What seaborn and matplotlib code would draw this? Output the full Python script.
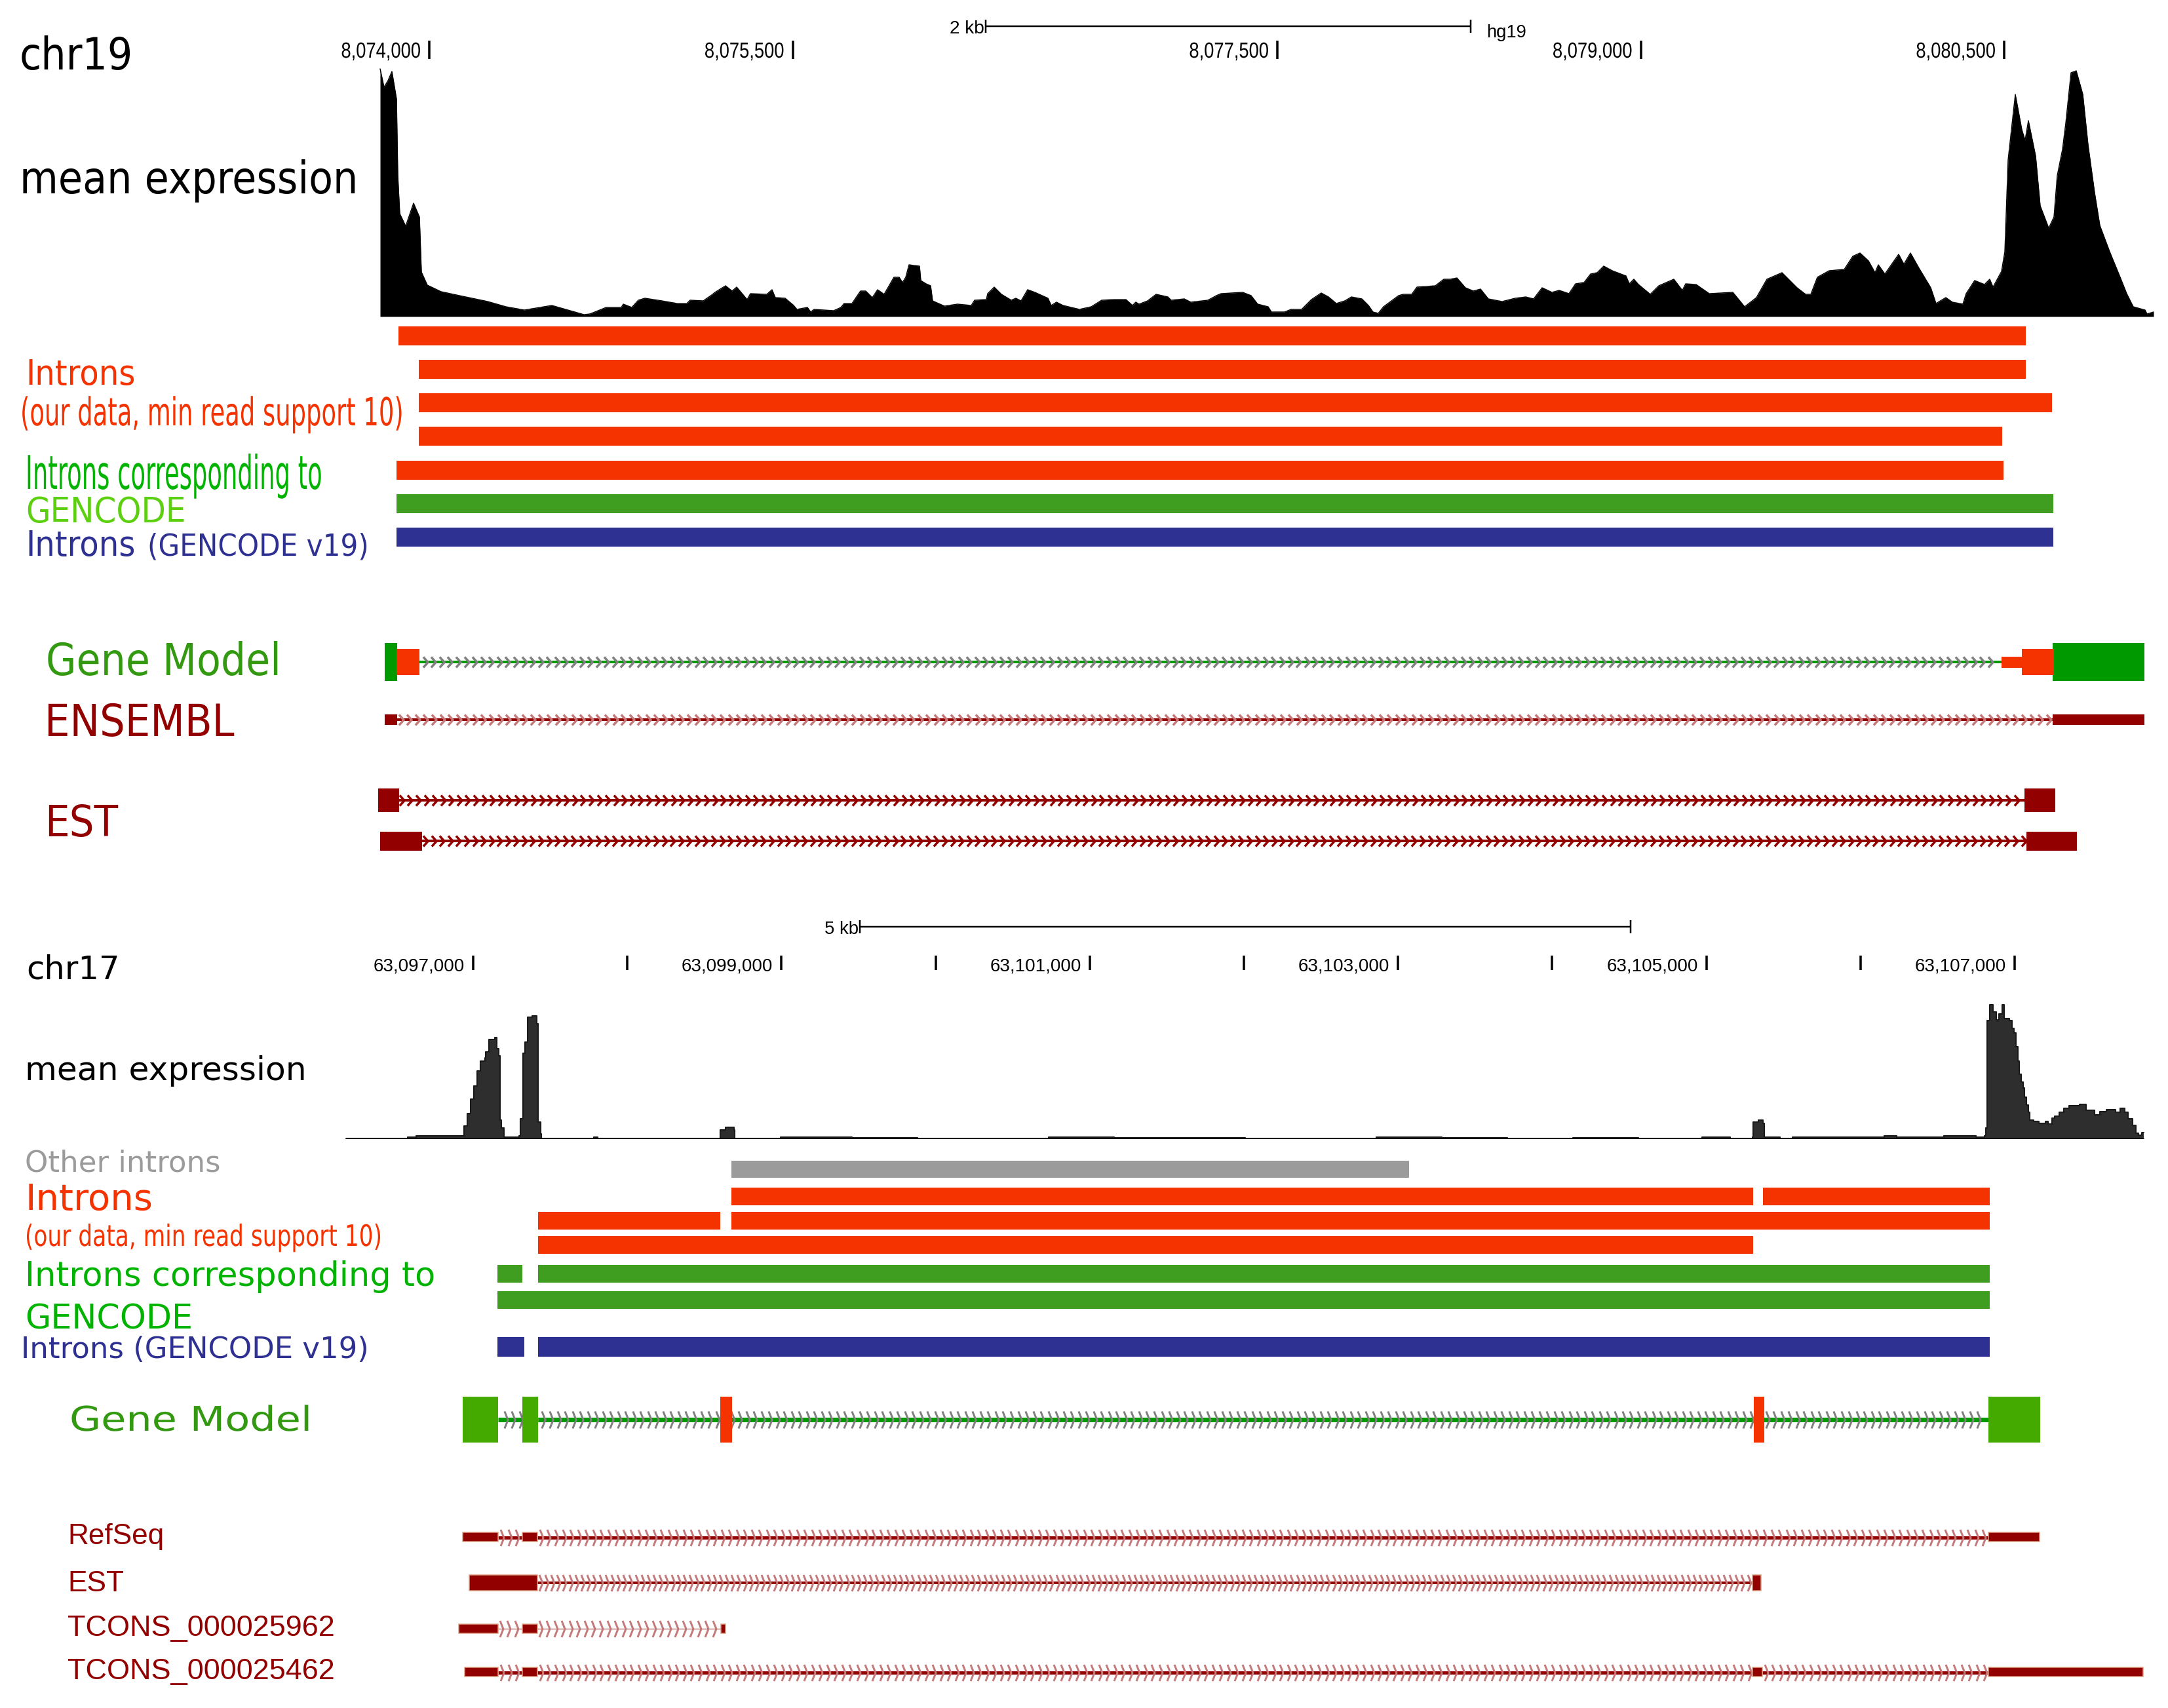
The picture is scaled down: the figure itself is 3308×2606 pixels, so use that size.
import numpy as np
import matplotlib
matplotlib.use("Agg")
import matplotlib.pyplot as plt
from matplotlib.path import Path
from matplotlib.patheffects import AbstractPathEffect
from matplotlib.transforms import Affine2D
import seaborn as sns

# ---------- DATA: panel 1 (chr19), positions in bp ----------
CHR19_START_BP = 8074000
CHR19_BP_PER_COL = 1 / 0.3697
chr19_ticks = [8074000, 8075500, 8077500, 8079000, 8080500]
chr19_tick_labels = ["8,074,000", "8,075,500", "8,077,500", "8,079,000", "8,080,500"]
chr19_scale = (8076297, 8078297)

# coverage read by browser column (one column ~ 2.7 bp) and height
chr19_cov_col = [580,586,592,598,605,607,610,619,631,640,643,652,673,701,744,772,800,842,891,900,915,925,948,951,964,974,984,
 1010,1033,1048,1053,1073,1086,1091,1107,1117,1124,1140,1145,1170,1178,1183,1198,1211,1216,1232,1237,1242,1272,1283,1288,1300,
 1313,1321,1331,1339,1349,1364,1372,1377,1382,1387,1403,1405,1413,1420,1423,1441,1461,1482,1487,1505,1507,1517,1528,1543,1550,
 1558,1568,1579,1599,1604,1612,1622,1647,1665,1681,1700,1718,1728,1733,1738,1751,1764,1782,1787,1807,1817,1843,1856,1863,1896,
 1909,1919,1935,1940,1960,1970,1986,2001,2016,2027,2039,2052,2062,2078,2088,2095,2103,2111,2134,2141,2154,2162,2190,2203,2213,
 2223,2236,2248,2259,2271,2292,2312,2328,2340,2353,2368,2379,2394,2404,2417,2427,2437,2447,2460,2481,2486,2493,2500,2518,2531,
 2554,2567,2572,2588,2608,2644,2662,2680,2696,2719,2742,2755,2763,2773,2791,2814,2827,2838,2851,2861,2866,2876,2897,2905,2915,
 2928,2946,2954,2969,2979,2995,3000,3013,3028,3036,3041,3054,3059,3064,3075,3085,3090,3095,3106,3113,3126,3134,3139,3147,3152,
 3160,3168,3178,3186,3196,3204,3219,3235,3245,3255,3273,3276,3286]
chr19_cov_h = [378,350,360,374,332,215,157,138,173,152,68,48,38,32,23,15,10,17,3,4,10,14,14,19,14,25,28,
 24,20,20,25,24,33,37,47,39,45,26,35,34,41,29,28,17,11,14,7,11,9,14,20,20,
 39,39,29,41,34,60,60,52,60,79,77,55,50,47,24,16,19,17,25,26,35,45,34,25,28,
 24,41,37,28,17,22,17,11,15,25,26,26,17,22,19,24,34,30,25,27,22,25,32,35,37,
 32,19,15,7,7,11,11,26,36,30,20,24,30,27,17,7,5,15,32,34,34,45,47,57,57,
 59,44,39,42,27,23,28,30,27,44,37,40,35,50,52,65,67,77,70,62,50,57,49,34,47,
 57,40,50,49,35,37,15,29,57,67,44,34,34,60,70,72,92,97,85,67,79,65,95,80,97,
 74,44,20,29,22,19,35,55,49,57,45,69,99,239,339,285,269,299,245,169,135,152,215,255,295,
 372,375,339,262,189,139,99,60,35,15,10,4,7]

chr19_red_rows = [[(8073873, 8080589)], [(8073957, 8080589)], [(8073957, 8080697)],
                  [(8073957, 8080492)], [(8073865, 8080497)]]
chr19_green_rows = [[(8073865, 8080703)]]
chr19_blue_rows = [[(8073865, 8080703)]]

chr19_gene_intron = [(8073959, 8080489)]
chr19_gene_green = [(8073816, 8073867), (8080700, 8081079)]
chr19_gene_red_tall = [(8073865, 8073959), (8080573, 8080705)]
chr19_gene_red_thin = [(8080489, 8080573)]
chr19_ensembl_exons = [(8073816, 8073867), (8080700, 8081079)]
chr19_ensembl_intron = [(8073867, 8080700)]
chr19_est1_exons = [(8073789, 8073876), (8080584, 8080711)]
chr19_est1_intron = [(8073876, 8080584)]
chr19_est2_exons = [(8073797, 8073970), (8080592, 8080800)]
chr19_est2_intron = [(8073970, 8080592)]

# ---------- DATA: panel 2 (chr17), positions in bp ----------
CHR17_START_BP = 63097000
CHR17_BP_PER_COL = 1 / 0.2352
chr17_ticks = [63097000 + 1000 * i for i in range(11)]
chr17_tick_labels = ["63,097,000", "", "63,099,000", "", "63,101,000", "", "63,103,000", "", "63,105,000", "", "63,107,000"]
chr17_scale = (63099510, 63104510)

chr17_cov_col = [528,622,635,704,708,713,718,723,728,733,740,741,746,755,758,761,763,765,769,792,794,798,801,805,812,819,821,825,
 826,906,912,1099,1107,1115,1120,1121,1191,1235,1300,1400,1500,1600,1700,1800,1900,2000,2100,2200,2300,2400,2500,2597,2640,2674,
 2675,2683,2690,2692,2714,2716,2735,2843,2856,2875,2894,2966,2974,3008,3015,3028,3030,3032,3036,3041,3046,3050,3055,3058,3066,
 3070,3073,3076,3079,3081,3084,3087,3089,3092,3095,3097,3103,3111,3121,3125,3131,3135,3142,3149,3157,3173,3183,3196,3204,3214,
 3224,3228,3235,3242,3247,3254,3259,3263,3268,3271]
chr17_cov_h = [1,3,5,5,20,39,61,81,104,119,124,133,152,155,138,127,29,17,3,5,31,131,148,186,188,176,26,8,
 1,3,1,14,18,18,14,1,3,3,2,1,1,3,2,2,1,1,3,2,1,2,1,3,1,3,
 26,29,24,3,3,1,3,3,3,5,3,5,5,5,3,5,17,181,205,194,182,191,205,184,181,
 169,162,141,119,99,87,78,64,52,41,29,27,24,27,23,32,35,41,47,51,53,44,37,42,45,
 45,41,47,41,31,21,9,6,10,10]

chr17_other_rows = [[(63098675, 63103071)]]
chr17_red_rows = [[(63098675, 63105304), (63105367, 63106838)],
                  [(63097421, 63098603), (63098675, 63106838)],
                  [(63097421, 63105304)]]
chr17_green_rows = [[(63097159, 63097319), (63097421, 63106838)], [(63097159, 63106838)]]
chr17_blue_rows = [[(63097159, 63097332), (63097421, 63106838)]]

chr17_gene_intron = [(63097162, 63106830)]
chr17_gene_green = [(63096932, 63097162), (63097319, 63097421), (63106830, 63107166)]
chr17_gene_red = [(63098603, 63098679), (63105308, 63105376)]
chr17_refseq_exons = [(63096932, 63097162), (63097319, 63097417), (63106830, 63107162)]
chr17_refseq_intron = [(63097162, 63097319), (63097417, 63106830)]
chr17_est_exons = [(63096974, 63097417), (63105299, 63105355)]
chr17_est_intron = [(63097417, 63105299)]
chr17_t1_exons = [(63096906, 63097162), (63097319, 63097417), (63098607, 63098637)]
chr17_t1_intron = [(63097162, 63097319), (63097417, 63098607)]
chr17_t2_exons = [(63096945, 63097162), (63097319, 63097417), (63105299, 63105363), (63106830, 63107833)]
chr17_t2_intron = [(63097162, 63097319), (63097417, 63105299), (63105363, 63106830)]

# ---------- STYLE ----------
W, H = 3308, 2606
RED = "#f53300"; DKRED = "#930000"; PALE = "#c47a7a"; GREY = "#808080"
G1 = "#009900"; G2 = "#44aa00"; GBAR = "#3f9d1f"; BLUE = "#2e3192"; OTHER = "#9b9b9b"
TXT_GREEN = "#00b300"; TXT_LIME = "#5cd010"; TXT_MODEL = "#339911"
PT = 0.72  # one pixel in points at dpi 100
SPLIT = 1340

sns.set_theme(style="white")
plt.rcParams["font.family"] = ["DejaVu Sans"]
fig = plt.figure(figsize=(W / 100, H / 100), dpi=100, facecolor="white")

class HScale(AbstractPathEffect):
    """Scales the glyphs of a text horizontally about a pixel column."""
    def __init__(self, sx, x0):
        super().__init__()
        self.sx, self.x0 = sx, x0
    def draw_path(self, renderer, gc, tpath, affine, rgbFace=None):
        extra = Affine2D().translate(-self.x0, 0).scale(self.sx, 1).translate(self.x0, 0)
        renderer.draw_path(gc, tpath, affine + extra, rgbFace)

def make_ax(top, bottom, ylim, xlim, z=1):
    ax = fig.add_axes([0, 1 - bottom / H, 1, (bottom - top) / H], zorder=z)
    ax.set_xlim(*xlim); ax.set_ylim(*ylim); ax.axis("off"); ax.patch.set_alpha(0)
    return ax

xlim1 = (CHR19_START_BP - 655 * CHR19_BP_PER_COL, CHR19_START_BP + (W - 655) * CHR19_BP_PER_COL)
xlim2 = (CHR17_START_BP - 722 * CHR17_BP_PER_COL, CHR17_START_BP + (W - 722) * CHR17_BP_PER_COL)

ax1 = make_ax(0, SPLIT, (SPLIT, 0), xlim1, 2)
ax2 = make_ax(SPLIT, H, (H, SPLIT), xlim2, 2)
cov1 = make_ax(95, 483, (0, 388), xlim1)
cov2 = make_ax(1510, 1738, (0, 228), xlim2)

# chevron markers: open arrowheads pointing right
CHEV_WIDE = Path([(-0.45, -1), (0.45, 0), (-0.45, 1)], [Path.MOVETO, Path.LINETO, Path.LINETO])
CHEV_TALL = Path([(-0.2, -1), (0.2, 0), (-0.2, 1)], [Path.MOVETO, Path.LINETO, Path.LINETO])

def rows(ax, data, centers, height, color):
    for segs, c in zip(data, centers):
        for s, e in segs:
            ax.barh(c, e - s, left=s, height=height, color=color, lw=0, zorder=3)

def intron(ax, segs, y, line_px, color, chev_color, chev, chev_h, chev_w, step, pad, z=2):
    for s, e in segs:
        ax.plot([s, e], [y, y], color=color, lw=line_px * PT, solid_capstyle="butt", zorder=z)
        xs = np.arange(s + pad, e - pad / 2, step)
        ax.plot(xs, np.full(len(xs), y), ls="", marker=chev, ms=chev_h * PT, mec=chev_color,
                mew=chev_w * PT, fillstyle="none", zorder=z + 0.2)

def exons(ax, segs, y, height, color, edge=None, z=4):
    for s, e in segs:
        ax.barh(y, e - s, left=s, height=height, color=color,
                edgecolor=edge if edge else color, lw=(1.5 * PT if edge else 0), zorder=z)

def ruler(ax, ticks, labels, y0, y1, base, size, sx=1.0, fam="Liberation Sans"):
    ax.vlines(ticks, y0, y1, color="black", lw=3.5 * PT)
    for t, lab in zip(ticks, labels):
        if lab:
            a = ax.annotate(lab, (t, base), xytext=(-13, 0), textcoords="offset pixels", ha="right",
                            va="baseline", fontsize=size, family=fam, color="black")
            if sx != 1.0:
                a.set_path_effects([HScale(sx, ax.transData.transform((t, base))[0] - 13)])

def scale_bar(ax, span, y, cap):
    ax.plot(span, [y, y], color="black", lw=2.5 * PT, solid_capstyle="butt")
    ax.vlines(span, y - cap, y + cap, color="black", lw=2.5 * PT)

def label(s, x0, x1, base, color="black", fam="DejaVu Sans", stretch="normal", size=30, em_px=None):
    """Text running from column x0 to x1. With em_px the height is kept and the glyphs are scaled to width."""
    if em_px:
        size = em_px * PT
    t = fig.text(x0 / W, 1 - base / H, s, color=color, family=fam, stretch=stretch, fontsize=size,
                 ha="left", va="baseline", zorder=10)
    w = t.get_window_extent(fig.canvas.get_renderer()).width
    if em_px:
        t.set_path_effects([HScale((x1 - x0) / w, x0)])
    else:
        t.set_fontsize(size * (x1 - x0) / w)
    return t

# ---------- coverage ----------
cx1 = CHR19_START_BP + (np.array(chr19_cov_col) - 655) * CHR19_BP_PER_COL
sns.lineplot(x=cx1, y=chr19_cov_h, ax=cov1, color="black", lw=1, estimator=None, errorbar=None, legend=False)
cov1.fill_between(cx1, 0, chr19_cov_h, color="black", lw=0)
cov1.set_xlim(*xlim1); cov1.set_ylim(0, 388); cov1.axis("off")

cx2 = CHR17_START_BP + (np.array(chr17_cov_col) - 722) * CHR17_BP_PER_COL
sns.lineplot(x=cx2, y=chr17_cov_h, ax=cov2, color="#1a1a1a", lw=1.5, estimator=None, errorbar=None,
             legend=False, drawstyle="steps-post")
cov2.fill_between(cx2, 0, chr17_cov_h, color="#2e2e2e", lw=0, step="post")
cov2.set_xlim(*xlim2); cov2.set_ylim(0, 228); cov2.axis("off")
cov2.plot([cx2[0], cx2[-1]], [1, 1], color="#111111", lw=3 * PT, solid_capstyle="butt")

# ---------- panel 1 tracks ----------
ruler(ax1, chr19_ticks, chr19_tick_labels, 62, 90, 88, 24, sx=0.82)
scale_bar(ax1, chr19_scale, 40, 10)
rows(ax1, chr19_red_rows, [512, 563.5, 614.5, 665.5, 717.5], 29, RED)
rows(ax1, chr19_green_rows, [768.5], 29, GBAR)
rows(ax1, chr19_blue_rows, [819.5], 29, BLUE)

intron(ax1, chr19_gene_intron, 1010, 4, G1, GREY, CHEV_WIDE, 16, 3.5, 34, 24)
exons(ax1, chr19_gene_green, 1010, 58, G1)
exons(ax1, chr19_gene_red_tall, 1010, 40, RED, z=5)
exons(ax1, chr19_gene_red_thin, 1010, 17, RED, z=5)
intron(ax1, chr19_ensembl_intron, 1098, 4, DKRED, PALE, CHEV_WIDE, 16, 3.5, 34, 16)
exons(ax1, chr19_ensembl_exons, 1098, 16, DKRED)
intron(ax1, chr19_est1_intron, 1221, 4, DKRED, DKRED, CHEV_WIDE, 16, 3.5, 34, 10)
exons(ax1, chr19_est1_exons, 1221, 36, DKRED)
intron(ax1, chr19_est2_intron, 1283, 4, DKRED, DKRED, CHEV_WIDE, 16, 3.5, 34, 14)
exons(ax1, chr19_est2_exons, 1283, 29, DKRED)

# ---------- panel 2 tracks ----------
ruler(ax2, chr17_ticks, chr17_tick_labels, 1458, 1480, 1481, 20)
scale_bar(ax2, chr17_scale, 1414, 10)
rows(ax2, chr17_other_rows, [1784], 26, OTHER)
rows(ax2, chr17_red_rows, [1825, 1862, 1899], 27, RED)
rows(ax2, chr17_green_rows, [1943, 1983], 27, GBAR)
rows(ax2, chr17_blue_rows, [2055], 30, BLUE)

intron(ax2, chr17_gene_intron, 2166, 7, G1, GREY, CHEV_TALL, 26, 3, 49, 50)
exons(ax2, chr17_gene_green, 2166, 70, G2)
exons(ax2, chr17_gene_red, 2166, 70, RED, z=5)
intron(ax2, chr17_refseq_intron, 2346, 5, DKRED, PALE, CHEV_TALL, 25, 3, 49, 25)
exons(ax2, chr17_refseq_exons, 2345, 14, DKRED, edge="#dd9f80")
intron(ax2, chr17_est_intron, 2415, 4, DKRED, PALE, CHEV_TALL, 25, 3, 39, 20)
exons(ax2, chr17_est_exons, 2415, 24, DKRED, edge="#dd9f80")
intron(ax2, chr17_t1_intron, 2485, 1, DKRED, PALE, CHEV_TALL, 25, 3, 49, 20)
exons(ax2, chr17_t1_exons, 2485, 14, DKRED, edge="#dd9f80")
intron(ax2, chr17_t2_intron, 2552, 5, DKRED, PALE, CHEV_TALL, 25, 3, 49, 25)
exons(ax2, chr17_t2_exons, 2551, 14, DKRED, edge="#dd9f80")

# ---------- text ----------
C = "condensed"
label("chr19", 30, 203, 106, stretch=C)
label("mean expression", 30, 545, 295, stretch=C)
label("Introns", 39, 206, 587, RED, stretch=C)
label("(our data, min read support 10)", 31, 616, 649, RED, em_px=59)
label("Introns corresponding to", 39, 492, 746, TXT_GREEN, em_px=71)
label("GENCODE", 39, 283, 797, TXT_LIME, stretch=C)
label("Introns", 39, 206, 848, BLUE, stretch=C)
label("(GENCODE v19)", 225, 562, 848, BLUE, stretch=C)
label("Gene Model", 70, 429, 1030, TXT_MODEL, stretch=C)
label("ENSEMBL", 68, 357, 1123, DKRED, stretch=C)
label("EST", 68, 180, 1276, DKRED, stretch=C)
label("2 kb", 1449, 1502, 51, fam="Liberation Sans")
label("hg19", 2268, 2329, 57, fam="Liberation Sans")

label("5 kb", 1258, 1310, 1425, fam="Liberation Sans")
label("chr17", 40, 182, 1493)
label("mean expression", 38, 467, 1648)
label("Other introns", 38, 336, 1788, OTHER)
label("Introns", 38, 233, 1846, RED)
label("(our data, min read support 10)", 38, 584, 1901, RED, em_px=45)
label("Introns corresponding to", 38, 662, 1962, TXT_GREEN)
label("GENCODE", 38, 294, 2028, TXT_GREEN)
label("Introns (GENCODE v19)", 32, 563, 2072, BLUE)
label("Gene Model", 106, 476, 2183, TXT_MODEL, em_px=52)
label("RefSeq", 103, 250, 2356, DKRED, fam="Liberation Sans")
label("EST", 103, 189, 2428, DKRED, fam="Liberation Sans")
label("TCONS_000025962", 103, 511, 2496, DKRED, fam="Liberation Sans")
label("TCONS_000025462", 103, 511, 2562, DKRED, fam="Liberation Sans")

fig.savefig("out.png", dpi=100, facecolor="white")
